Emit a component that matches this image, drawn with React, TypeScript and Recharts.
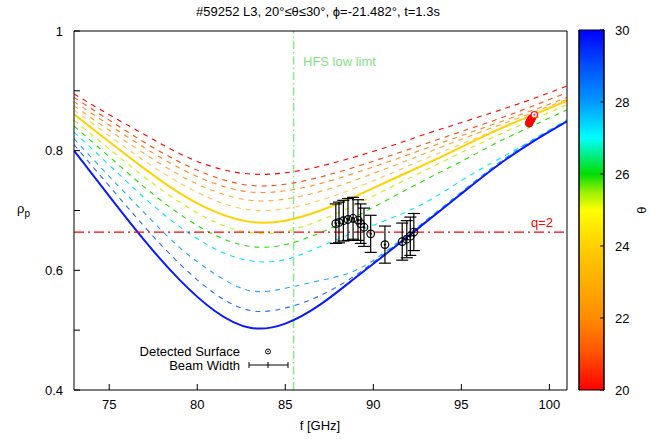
import React from "react";
import {
  ComposedChart,
  Line,
  Scatter,
  ErrorBar,
  XAxis,
  YAxis,
  ReferenceLine,
  ReferenceArea,
} from "recharts";

const freqs = [73, 75, 77, 79, 81, 83, 85, 87, 89, 91, 93, 95, 97, 99, 101];

// rho_p(f) for each launch angle theta
const theta20 = [0.895, 0.86, 0.827, 0.795, 0.772, 0.761, 0.763, 0.774, 0.79, 0.808, 0.828, 0.847, 0.866, 0.886, 0.908];
const theta21 = [0.889, 0.851, 0.814, 0.781, 0.756, 0.742, 0.744, 0.756, 0.773, 0.792, 0.812, 0.832, 0.852, 0.874, 0.897];
const theta22 = [0.882, 0.843, 0.805, 0.771, 0.745, 0.731, 0.733, 0.745, 0.763, 0.783, 0.804, 0.825, 0.846, 0.867, 0.889];
const theta23 = [0.875, 0.834, 0.795, 0.759, 0.732, 0.717, 0.719, 0.732, 0.751, 0.773, 0.796, 0.819, 0.841, 0.863, 0.886];
const theta24 = [0.868, 0.825, 0.783, 0.746, 0.717, 0.701, 0.703, 0.717, 0.738, 0.762, 0.787, 0.811, 0.835, 0.859, 0.884];
const thetaMain = [0.861, 0.815, 0.77, 0.729, 0.698, 0.681, 0.683, 0.7, 0.724, 0.751, 0.778, 0.806, 0.834, 0.859, 0.883];
const theta25 = [0.851, 0.803, 0.756, 0.714, 0.681, 0.663, 0.665, 0.684, 0.71, 0.739, 0.768, 0.797, 0.825, 0.851, 0.877];
const theta26 = [0.841, 0.79, 0.739, 0.694, 0.659, 0.64, 0.643, 0.663, 0.69, 0.721, 0.752, 0.782, 0.813, 0.841, 0.868];
const theta27 = [0.831, 0.776, 0.721, 0.673, 0.636, 0.616, 0.618, 0.64, 0.664, 0.687, 0.714, 0.75, 0.784, 0.817, 0.852];
const theta28 = [0.82, 0.757, 0.696, 0.638, 0.594, 0.566, 0.57, 0.583, 0.6, 0.638, 0.684, 0.731, 0.777, 0.817, 0.85];
const theta29 = [0.81, 0.741, 0.673, 0.611, 0.561, 0.533, 0.537, 0.558, 0.592, 0.636, 0.682, 0.729, 0.775, 0.815, 0.849];
const theta30 = [0.8, 0.724, 0.65, 0.584, 0.532, 0.504, 0.511, 0.543, 0.588, 0.634, 0.681, 0.728, 0.774, 0.814, 0.849];

// detected surface points with beam width
const detF = [87.87, 88.05, 88.3, 88.56, 88.85, 89.13, 89.28, 89.47, 89.85, 90.66, 91.64, 91.9, 92.1, 92.3];
const detRho = [0.678, 0.68, 0.683, 0.685, 0.687, 0.684, 0.678, 0.672, 0.661, 0.643, 0.648, 0.652, 0.657, 0.664];
const detErr = [0.033, 0.034, 0.034, 0.035, 0.035, 0.034, 0.033, 0.032, 0.031, 0.031, 0.031, 0.031, 0.032, 0.031];

// red markers near the right end
const redF = [98.85, 98.9, 98.95, 99.0];
const redRho = [0.846, 0.849, 0.852, 0.854];
const redOpenF = [99.15];
const redOpenRho = [0.86];

const q2Rho = 0.664;
const hfsF = 85.47;

const xTicks = [75, 80, 85, 90, 95, 100];
const yTicks = [0.4, 0.5, 0.6, 0.7, 0.8, 0.9, 1];
const yLabeled = [0.4, 0.6, 0.8, 1];
const cbTicks = [20, 22, 24, 26, 28, 30];

const series = [
  { key: "t20", vals: theta20, color: "#ff0000", dash: true },
  { key: "t21", vals: theta21, color: "#ff4a10", dash: true },
  { key: "t22", vals: theta22, color: "#ff8a1a", dash: true },
  { key: "t23", vals: theta23, color: "#ffa830", dash: true },
  { key: "t24", vals: theta24, color: "#ffc850", dash: true },
  { key: "t25", vals: theta25, color: "#ccf000", dash: true },
  { key: "t26", vals: theta26, color: "#22e000", dash: true },
  { key: "t27", vals: theta27, color: "#00e8ff", dash: true },
  { key: "t28", vals: theta28, color: "#22a8ff", dash: true },
  { key: "t29", vals: theta29, color: "#2a6cff", dash: true },
  { key: "main", vals: thetaMain, color: "#ffd200", dash: false },
  { key: "t30", vals: theta30, color: "#0a1aff", dash: false },
];

const rows = freqs.map((f, i) => {
  const r: any = { f };
  series.forEach((s) => (r[s.key] = s.vals[i]));
  return r;
});

const detPts = detF.map((f, i) => ({ f, rho: detRho[i], err: detErr[i] }));
const redPts = redF.map((f, i) => ({ f, rho: redRho[i] }));
const redOpenPts = redOpenF.map((f, i) => ({ f, rho: redOpenRho[i] }));

const FONT = "'Liberation Sans', Arial, Helvetica, sans-serif";

const OpenDot = (props: any) => {
  const { cx, cy } = props;
  return (
    <g>
      <circle cx={cx} cy={cy} r={3.8} fill="none" stroke="#000" strokeWidth={1.2} />
      <circle cx={cx} cy={cy} r={1.2} fill="#000" />
    </g>
  );
};

const RedDot = (props: any) => (
  <circle cx={props.cx} cy={props.cy} r={3.8} fill="#ff0000" stroke="#ff0000" />
);

const RedOpen = (props: any) => (
  <g>
    <circle cx={props.cx} cy={props.cy} r={3.2} fill="#fff" stroke="#ff2020" strokeWidth={1.3} />
    <circle cx={props.cx} cy={props.cy} r={1} fill="#ff2020" />
  </g>
);

export default function App() {
  return (
    <div
      style={{
        position: "absolute",
        left: 0,
        top: 0,
        width: 668,
        height: 439,
        background: "#fff",
        fontFamily: FONT,
      }}
    >
      <div style={{ position: "absolute", left: 0, top: 0 }}>
        <ComposedChart
          width={668}
          height={439}
          data={rows}
          margin={{ top: 30, right: 100, bottom: 9, left: 14 }}
        >
          <XAxis
            dataKey="f"
            type="number"
            domain={[73, 101]}
            ticks={xTicks}
            allowDataOverflow
            height={40}
            tickSize={-6}
            tickMargin={16}
            stroke="#000"
            tick={{ fill: "#000", fontSize: 13 }}
          />
          <XAxis
            xAxisId="top"
            orientation="top"
            type="number"
            domain={[73, 101]}
            ticks={xTicks}
            allowDataOverflow
            height={1}
            tickSize={-6}
            tick={false}
            stroke="#000"
          />
          <YAxis
            type="number"
            domain={[0.4, 1]}
            ticks={yTicks}
            allowDataOverflow
            width={60}
            tickSize={-6}
            tickMargin={17}
            stroke="#000"
            tick={{ fill: "#000", fontSize: 13 }}
            tickFormatter={(v: number) =>
              yLabeled.some((t) => Math.abs(t - v) < 1e-6) ? String(v) : ""
            }
          />
          <YAxis
            yAxisId="r"
            orientation="right"
            type="number"
            domain={[0.4, 1]}
            ticks={yTicks}
            allowDataOverflow
            width={1}
            tickSize={-6}
            tick={false}
            stroke="#000"
          />
          <ReferenceLine
            x={hfsF}
            stroke="#86e886"
            strokeWidth={1.5}
            strokeDasharray="8 3 1.5 3"
          />
          {series.map((s) => (
            <Line
              key={s.key}
              dataKey={s.key}
              type="natural"
              stroke={s.color}
              strokeWidth={s.dash ? 1.1 : 2}
              strokeDasharray={s.dash ? "5 5" : undefined}
              dot={false}
              activeDot={false}
              isAnimationActive={false}
            />
          ))}
          <ReferenceLine
            y={q2Rho}
            stroke="#ff0000"
            strokeWidth={1.3}
            strokeDasharray="10 4 2 4"
          />
          <Scatter
            data={detPts}
            dataKey="rho"
            shape={<OpenDot />}
            isAnimationActive={false}
          >
            <ErrorBar dataKey="err" direction="y" width={6} stroke="#000" strokeWidth={1.2} />
          </Scatter>
          <Scatter data={redPts} dataKey="rho" shape={<RedDot />} isAnimationActive={false} />
          <Scatter data={redOpenPts} dataKey="rho" shape={<RedOpen />} isAnimationActive={false} />
        </ComposedChart>
      </div>

      {/* colour bar */}
      <div style={{ position: "absolute", left: 578, top: 0 }}>
        <ComposedChart
          width={90}
          height={439}
          margin={{ top: 30, right: 24, bottom: 49, left: 0 }}
        >
          <defs>
            <linearGradient id="cbGrad" x1="0" y1="0" x2="0" y2="1">
              <stop offset="0" stopColor="#0000ff" />
              <stop offset="0.1" stopColor="#0050ff" />
              <stop offset="0.2" stopColor="#0098ff" />
              <stop offset="0.3" stopColor="#00ffff" />
              <stop offset="0.4" stopColor="#00dd00" />
              <stop offset="0.45" stopColor="#99f000" />
              <stop offset="0.5" stopColor="#ffff00" />
              <stop offset="0.6" stopColor="#ffd000" />
              <stop offset="0.8" stopColor="#ff8c00" />
              <stop offset="0.9" stopColor="#ff5000" />
              <stop offset="1" stopColor="#ff0000" />
            </linearGradient>
          </defs>
          <XAxis type="number" dataKey="x" domain={[0, 1]} hide allowDataOverflow />
          <YAxis
            yAxisId="cl"
            type="number"
            domain={[20, 30]}
            ticks={cbTicks}
            width={1}
            tickSize={-4}
            tick={false}
            stroke="#000"
          />
          <YAxis
            yAxisId="cb"
            orientation="right"
            type="number"
            domain={[20, 30]}
            ticks={cbTicks}
            width={40}
            tickSize={-4}
            tickMargin={15}
            stroke="#000"
            tick={{ fill: "#000", fontSize: 13, textAnchor: "start" }}
          />
          <ReferenceArea
            yAxisId="cb"
            x1={0}
            x2={1}
            y1={20}
            y2={30}
            fill="url(#cbGrad)"
            fillOpacity={1}
            stroke="#000"
            ifOverflow="extendDomain"
          />
        </ComposedChart>
      </div>

      {/* titles, labels and key */}
      <svg
        width={668}
        height={439}
        style={{ position: "absolute", left: 0, top: 0, pointerEvents: "none" }}
        fontFamily={FONT}
        fontSize={13}
      >
        <text x={318} y={16} textAnchor="middle" fill="#000">
          #59252 L3, 20°≤θ≤30°, ϕ=-21.482°, t=1.3s
        </text>
        <text x={320} y={430} textAnchor="middle" fill="#000">
          f [GHz]
        </text>
        <text x={17} y={213} fill="#000">
          ρ<tspan fontSize={10} dy={4}>p</tspan>
        </text>
        <text x={646} y={210} textAnchor="middle" fill="#000" transform="rotate(-90 646 210)">
          θ
        </text>
        <text x={303} y={66} fill="#86e086">
          HFS low limt
        </text>
        <text x={531} y={227} fill="#ff0000">
          q=2
        </text>

        <text x={240} y={356} textAnchor="end" fill="#000">
          Detected Surface
        </text>
        <circle cx={268} cy={351.5} r={2.5} fill="none" stroke="#000" />
        <circle cx={268} cy={351.5} r={0.8} fill="#000" />
        <text x={240} y={370} textAnchor="end" fill="#000">
          Beam Width
        </text>
        <line x1={249} y1={365} x2={288} y2={365} stroke="#000" />
        <line x1={249} y1={362} x2={249} y2={368} stroke="#000" />
        <line x1={288} y1={362} x2={288} y2={368} stroke="#000" />
        <line x1={268} y1={362} x2={268} y2={368} stroke="#000" />
      </svg>
    </div>
  );
}
